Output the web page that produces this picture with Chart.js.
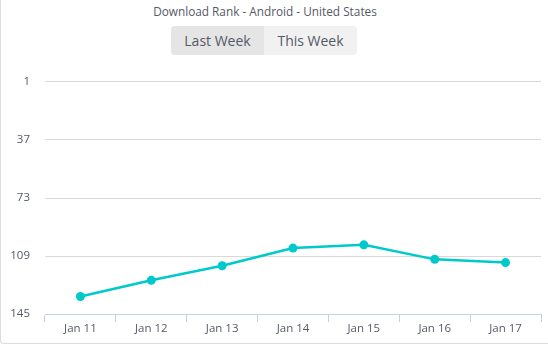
<!DOCTYPE html>
<html>
<head>
<meta charset="utf-8">
<script src="https://cdn.jsdelivr.net/npm/chart.js@4/dist/chart.umd.min.js"></script>
<style>
  body { margin: 0; background: #fff; font-family: "Open Sans", sans-serif; }
  .card {
    position: relative;
    width: 547px;
    height: 343px;
    border-left: 1px solid #dcdcdc;
    border-bottom: 1px solid #dcdcdc;
    border-bottom-left-radius: 4px;
  }
  .title {
    position: absolute;
    top: 3px;
    left: 0;
    width: 528px;
    text-align: center;
    font-size: 11.8px;
    color: #555a66;
  }
  .toggle {
    position: absolute;
    top: 26px;
    left: 170px;
    height: 29px;
    display: flex;
    border-radius: 4px;
    overflow: hidden;
    font-size: 14px;
    color: #555a66;
  }
  .toggle div { width: 93px; line-height: 29px; text-align: center; }
  .toggle .active { background: #e5e5e5; }
  .toggle .idle { background: #f1f1f1; }
  .chart-wrap { position: absolute; left: 0; top: 60px; width: 547px; height: 283px; }
</style>
</head>
<body>
<div class="card">
  <div class="title">Download Rank - Android - United States</div>
  <div class="toggle"><div class="active">Last Week</div><div class="idle">This Week</div></div>
  <div class="chart-wrap"><canvas id="my-chart"></canvas></div>
</div>
<script>
var days = ["Jan 11", "Jan 12", "Jan 13", "Jan 14", "Jan 15", "Jan 16", "Jan 17"];
var ranks = [134, 124, 115, 104, 102, 111, 113];
var rankTicks = [1, 37, 73, 109, 145];

function renderChart() {
  var ctx = document.getElementById("my-chart").getContext("2d");
  var myChart = new Chart(ctx, {
    type: "line",
    data: {
      labels: days,
      datasets: [
        {
          label: "Download Rank",
          data: ranks,
          borderColor: "#00c9cc",
          backgroundColor: "#00c9cc",
          borderWidth: 2.5,
          pointRadius: 4.5,
          pointBorderWidth: 0,
          tension: 0,
        },
      ],
    },
    options: {
      responsive: true,
      maintainAspectRatio: false,
      animation: false,
      layout: { padding: { top: 20, right: 7, bottom: 7, left: 0 } },
      plugins: { legend: { display: false }, tooltip: { enabled: false } },
      scales: {
        x: {
          offset: true,
          grid: { offset: true, drawOnChartArea: false, tickLength: 8, color: "#c4d2e2" },
          border: { color: "#c4d2e2" },
          ticks: { color: "#555a66", font: { family: "Open Sans", size: 11.5 }, padding: 0 },
        },
        y: {
          reverse: true,
          min: 1,
          max: 145,
          afterBuildTicks: function (scale) {
            scale.ticks = rankTicks.map(function (v) { return { value: v }; });
          },
          afterFit: function (scale) { scale.width = 44; },
          grid: { color: "#d9d9d9", drawTicks: false },
          border: { display: false },
          ticks: { color: "#555a66", font: { family: "Open Sans", size: 11.5 }, padding: 15 },
        },
      },
    },
  });
}

renderChart();
</script>
</body>
</html>
